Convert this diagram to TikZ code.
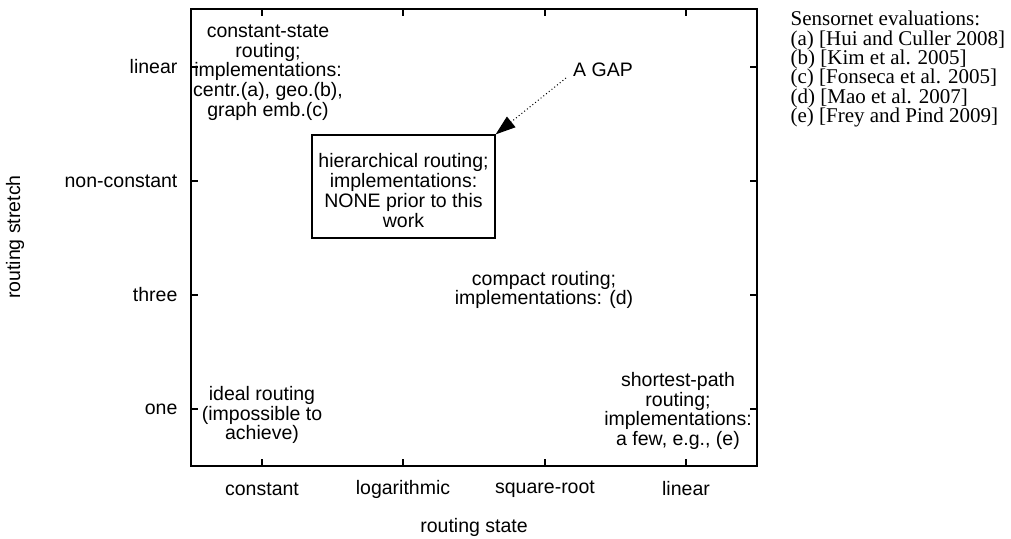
\documentclass[tikz,border=0pt]{standalone}
\usepackage{fontspec}
\setsansfont{Liberation Sans}
\newfontfamily\legendfont{Liberation Serif}
\usetikzlibrary{arrows.meta}
\AtBeginDocument{\lineskiplimit=-10pt\relax}
\begin{document}
\begin{tikzpicture}[x=1pt,y=-1pt,line width=1.2pt,
    every node/.style={inner sep=0pt, align=center,
      font=\sffamily\fontsize{19.5}{19.7}\selectfont}]
  \useasboundingbox (0,0) rectangle (1011,538);
  % frame with ticks on all four sides
  \draw (191,9) rectangle (757,466);
  \foreach \x in {262,403,545,686} {
    \draw (\x,466) -- ++(0,-7);
    \draw (\x,9) -- ++(0,7);
  }
  \foreach \y in {67,181,295,409} {
    \draw (191,\y) -- ++(7,0);
    \draw (757,\y) -- ++(-7,0);
  }
  % tick labels
  \foreach \y/\t/\n in {67/linear/ylin, 181/non-constant/ynon, 295/three/ythree, 409/one/yone}
    \node[anchor=east] (\n) at (178,\y) {\t};
  \foreach \x/\t/\n in {262/constant/xconst, 403/logarithmic/xlog, 545/square-root/xsqrt, 686/linear/xlin}
    \node (\n) at (\x,489) {\t};
  \node (xlabel) at (474,527) {routing state};
  \node[rotate=90] (ylabel) at (15,237) {routing stretch};
  % regions of the design space
  \node (cstate) at (268,72.5) {constant-state\\routing;\\implementations:\\centr.(a), geo.(b),\\graph emb.(c)};
  \node[draw, minimum width=183pt, minimum height=103pt] (hier) at (403.5,186.5) {};
  \node (hiertext) at (403.5,190.5) {hierarchical routing;\\implementations:\\NONE prior to this\\work};
  \node (compact) at (544,290) {compact routing;\\implementations: (d)};
  \node (ideal) at (262,415) {ideal routing\\(impossible to\\achieve)};
  \node (spath) at (678,411) {shortest-path\\routing;\\implementations:\\a few, e.g., (e)};
  \node (gap) at (603,70) {A GAP};
  \coordinate (gaptail) at (566,78);
  \draw[line width=1pt, dash pattern=on 1pt off 2.5pt, -{Triangle[length=20pt,width=13.5pt]}]
    (gaptail) -- (hier.north east);
  % references
  \node[anchor=north west, align=left,
    font=\legendfont\fontsize{21}{19.4}\selectfont] (refs) at (790,10.5)
    {Sensornet evaluations:\\(a) [Hui and Culler 2008]\\(b) [Kim et al. 2005]\\(c) [Fonseca et al. 2005]\\(d) [Mao et al. 2007]\\(e) [Frey and Pind 2009]};
\end{tikzpicture}
\end{document}
